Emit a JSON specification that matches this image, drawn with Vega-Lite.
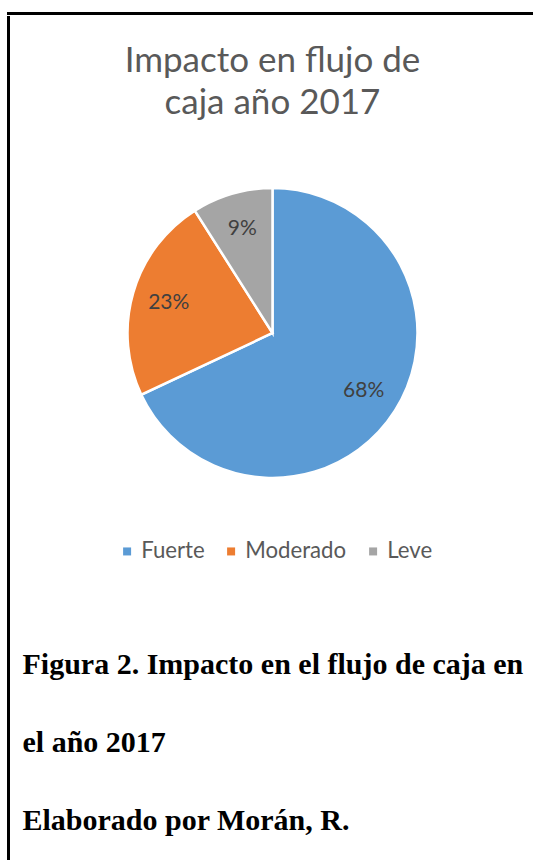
{
  "$schema": "https://vega.github.io/schema/vega-lite/v6.json",
  "padding": {"left": 7, "top": 12, "right": 0, "bottom": 0},
  "background": "white",
  "spacing": 0,
  "config": {"font": "Lato"},
  "vconcat": [
    {
      "width": 526,
      "height": 3,
      "view": {"fill": "#000000", "stroke": null},
      "data": {"values": []},
      "mark": "text",
      "encoding": {}
    },
    {
      "spacing": 0,
      "hconcat": [
        {
          "width": 3,
          "height": 845,
          "view": {"fill": "#000000", "stroke": null},
          "data": {"values": []},
          "mark": "text",
          "encoding": {}
        },
        {
          "spacing": 0,
          "title": {
            "text": ["Figura 2. Impacto en el flujo de caja en", "el año 2017", "Elaborado por Morán, R."],
            "orient": "bottom",
            "anchor": "start",
            "baseline": "alphabetic",
            "offset": 23,
            "dx": 12,
            "font": "Liberation Serif",
            "fontSize": 30,
            "fontWeight": "bold",
            "color": "black",
            "lineHeight": 78
          },
          "vconcat": [
            {
              "width": 523,
              "height": 634,
              "view": {"stroke": "white", "strokeWidth": 1},
              "title": {
                "text": ["Impacto en flujo de", "caja año 2017"],
                "orient": "top",
                "anchor": "middle",
                "offset": -105,
                "font": "Lato",
                "fontSize": 35,
                "fontWeight": "normal",
                "color": "#595959",
                "lineHeight": 42
              },
              "data": {
                "values": [
                  {"impacto": "Fuerte", "porcentaje": 0.68, "orden": 1},
                  {"impacto": "Moderado", "porcentaje": 0.23, "orden": 2},
                  {"impacto": "Leve", "porcentaje": 0.09, "orden": 3}
                ]
              },
              "encoding": {
                "theta": {"field": "porcentaje", "type": "quantitative", "stack": true},
                "order": {"field": "orden", "type": "quantitative"},
                "color": {
                  "field": "impacto",
                  "type": "nominal",
                  "scale": {"domain": ["Fuerte", "Moderado", "Leve"], "range": ["#5B9BD5", "#ED7D31", "#A5A5A5"]},
                  "legend": {
                    "orient": "none",
                    "legendX": 109,
                    "legendY": 528,
                    "direction": "horizontal",
                    "title": null,
                    "symbolType": "square",
                    "symbolSize": 64,
                    "symbolStrokeWidth": 0,
                    "labelFont": "Lato",
                    "labelFontSize": 22.2,
                    "labelColor": "#595959",
                    "labelOffset": 3,
                    "columnPadding": 15
                  }
                }
              },
              "layer": [
                {"mark": {"type": "arc", "outerRadius": 145, "stroke": "white", "strokeWidth": 2.5}},
                {
                  "mark": {"type": "text", "radius": 108, "font": "Lato", "fontSize": 21, "fill": "#404040"},
                  "encoding": {"text": {"field": "porcentaje", "type": "quantitative", "format": ".0%"}}
                }
              ]
            }
          ]
        }
      ]
    }
  ]
}
